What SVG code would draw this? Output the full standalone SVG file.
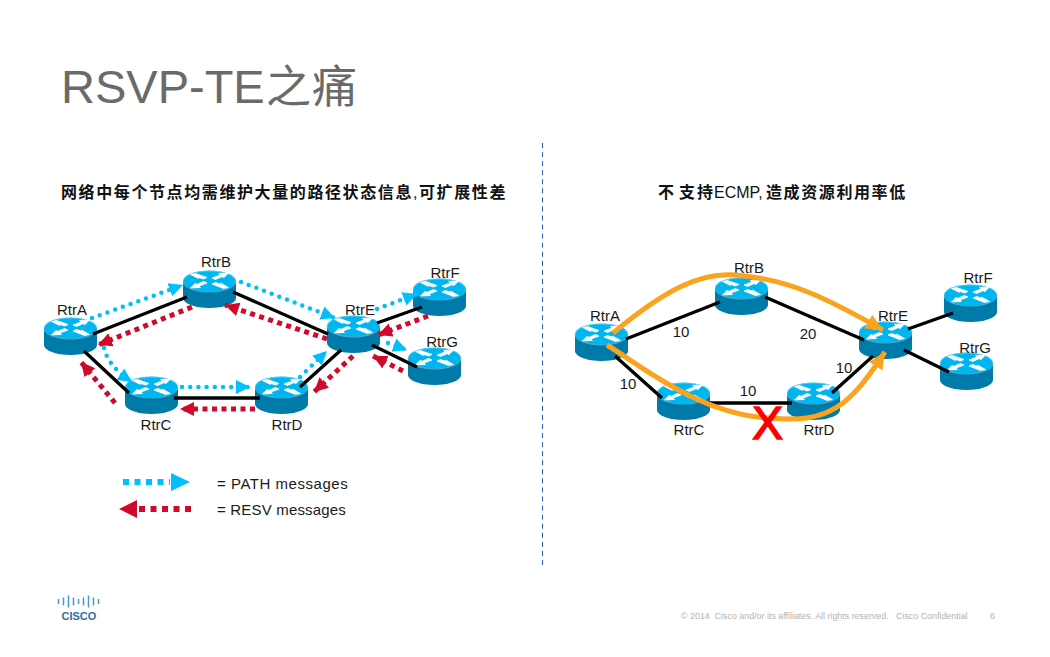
<svg xmlns="http://www.w3.org/2000/svg" width="1050" height="657" viewBox="0 0 1050 657">
<style>
text{font-family:"Liberation Sans","Noto Sans CJK SC",sans-serif}
.lb{font-size:15px;fill:#1a1a1a;text-anchor:middle}
.hd{font-size:16px;font-weight:bold;fill:#111;letter-spacing:1.6px}
.hn{font-weight:normal;letter-spacing:0}
.lg{font-size:15px;fill:#1a1a1a;letter-spacing:.53px}
.k{stroke:#000;stroke-width:3.300;fill:none}
.b{stroke:#00bfff;stroke-width:4.500;stroke-linecap:round;stroke-dasharray:0 8.2;fill:none;marker-end:url(#ab)}
.r{stroke:#cf0a2c;stroke-width:5;stroke-dasharray:5 4.500;fill:none;marker-end:url(#ar)}
.o{stroke:#fca31d;stroke-width:5;fill:none;marker-end:url(#ao)}
</style>
<defs>
<marker id="ab" markerUnits="userSpaceOnUse" markerWidth="16" markerHeight="16" refX="14" refY="8" orient="auto"><path d="M0 1L14 8L0 15Z" fill="#00bfff"/></marker>
<marker id="ar" markerUnits="userSpaceOnUse" markerWidth="16" markerHeight="16" refX="14" refY="8" orient="auto"><path d="M0 1L14 8L0 15Z" fill="#cf0a2c"/></marker>
<marker id="ao" markerUnits="userSpaceOnUse" markerWidth="18" markerHeight="18" refX="17" refY="9" orient="auto"><path d="M0 1L17 9L0 17Z" fill="#fca31d"/></marker>
<g id="router">
<path d="M-26.500 0V17A26.500 10 0 0 0 26.500 17V0Z" fill="#007aa8"/>
<ellipse cx="0" cy="0" rx="26.500" ry="10.500" fill="#00b6f0"/>
<ellipse cx="0" cy="0.500" rx="26.500" ry="10.500" fill="none" stroke="#9fe0f5" stroke-width="0.500"/>
<path d="M-19 -6.500L-14 -7.500L-2.500 -3.500L-6 -2L-12 -4L-11 -2.500ZM19 -8L9 -7.500L10.500 -6L2.500 -3L6 -1.500L13 -4.500L14 -3ZM-19 7L-9 6.500L-10.500 5L-2.500 2L-6 0.500L-13 3.500L-14 2ZM19 6.500L14 7.500L2.500 3L6 1.500L12 3.500L11 2Z" fill="#fff" stroke="#fff" stroke-width="0.800" stroke-linejoin="round"/>
</g>
</defs>
<rect width="1050" height="657" fill="#fff"/>
<text x="61" y="103" font-size="47" fill="#6a6a6a">RSVP-TE<tspan x="266" font-size="45" letter-spacing="1">之痛</tspan></text>
<text class="hd" x="61" y="198">网络中每个节点均需维护大量的路径状态信息<tspan class="hn" x="413">,</tspan><tspan x="419">可扩展性差</tspan></text>
<text class="hd" x="658" y="198">不<tspan x="679">支</tspan><tspan x="697">持</tspan><tspan class="hn" x="714">ECMP,</tspan><tspan x="766">造成资源利用率低</tspan></text>
<path d="M542.500 143V565" stroke="#2a5db0" stroke-width="1" stroke-dasharray="5 4.065" fill="none"/>
<g id="nodes-left">
<g id="L-RtrA"><use href="#router" x="70.500" y="328"/><text class="lb" x="72" y="315">RtrA</text></g>
<g id="L-RtrB"><use href="#router" x="209.500" y="281"/><text class="lb" x="216" y="267">RtrB</text></g>
<g id="L-RtrC"><use href="#router" x="151.500" y="387"/><text class="lb" x="156" y="430">RtrC</text></g>
<g id="L-RtrD"><use href="#router" x="281.500" y="387"/><text class="lb" x="287" y="430">RtrD</text></g>
<g id="L-RtrE"><use href="#router" x="353.500" y="326"/><text class="lb" x="360" y="315">RtrE</text></g>
<g id="L-RtrF"><use href="#router" x="439.500" y="289"/><text class="lb" x="445" y="278">RtrF</text></g>
<g id="L-RtrG"><use href="#router" x="434.500" y="358"/><text class="lb" x="442" y="347">RtrG</text></g>
</g>
<g id="nodes-right">
<g id="R-RtrA"><use href="#router" x="601.500" y="334"/><text class="lb" x="605" y="321">RtrA</text></g>
<g id="R-RtrB"><use href="#router" x="741.500" y="288"/><text class="lb" x="749" y="273">RtrB</text></g>
<g id="R-RtrC"><use href="#router" x="683.500" y="393"/><text class="lb" x="689" y="435">RtrC</text></g>
<g id="R-RtrD"><use href="#router" x="813.500" y="393"/><text class="lb" x="819" y="435">RtrD</text></g>
<g id="R-RtrE"><use href="#router" x="885.500" y="332"/><text class="lb" x="893" y="321">RtrE</text></g>
<g id="R-RtrF"><use href="#router" x="970.500" y="295"/><text class="lb" x="978" y="283">RtrF</text></g>
<g id="R-RtrG"><use href="#router" x="966.500" y="363"/><text class="lb" x="975" y="353">RtrG</text></g>
</g>
<g id="connectors">
<path class="k" d="M93 334L187 297M84 351L129 393M174 398H260M233 292L328 334M300 387L341 350M377 323L422 307M372 345L417 367"/>
<path class="b" d="M92 318L183 285"/>
<path class="b" d="M241 282L335 318"/>
<path class="b" d="M104 348Q108 366 132 382"/>
<path class="b" d="M182 387H250"/>
<path class="b" d="M300 377L327 351"/>
<path class="b" d="M377 309L417 294"/>
<path class="b" d="M388 343L407 350"/>
<path class="r" d="M192 307L98 345"/>
<path class="r" d="M327 339L225 305"/>
<path class="r" d="M255 409H180"/>
<path class="r" d="M115 403L81 362"/>
<path class="r" d="M353 356L314 392"/>
<path class="r" d="M428 316L378 335"/>
<path class="r" d="M403 371L373 356"/>
<path class="k" d="M626 339L720 302M615 356L662 398M708 403H792M765 297L864 340M832 393L873 356M908 329L953 313M904 350L949 372"/>
<path class="o" d="M613 333C665 290 700 272 735 275C790 279 830 300 883 330"/>
<path class="o" d="M607 345C640 365 700 415 770 418C830 424 850 405 885 352"/>
<path d="M123 482H170" stroke="#00bfff" stroke-width="6" stroke-dasharray="6 5.500" fill="none"/>
<path d="M171 473L190 482L171 491Z" fill="#00bfff"/>
<path d="M191 509H137" stroke="#cf0a2c" stroke-width="6" stroke-dasharray="6 5.500" fill="none"/>
<path d="M137 500L119 509L137 518Z" fill="#cf0a2c"/>
</g>
<text class="lb" x="681" y="337">10</text>
<text class="lb" x="808" y="339">20</text>
<text class="lb" x="844" y="373">10</text>
<text class="lb" x="628" y="389">10</text>
<text class="lb" x="748" y="396">10</text>
<text x="767.500" y="439" font-size="46" fill="#f00" stroke="#f00" stroke-width="1.500" text-anchor="middle">X</text>
<text class="lg" x="217" y="489">= PATH messages</text>
<text class="lg" x="217" y="515" style="letter-spacing:.18px">= RESV messages</text>
<g id="logo">
<path d="M58.500 599V604M63.500 597.500V605.500M68.500 595.500V607.500M73.500 597.500V605.500M78.500 599V604M83.500 597.500V605.500M88.500 595.500V607.500M93.500 597.500V605.500M98.500 599V604" stroke="#4a97cf" stroke-width="1.500" fill="none"/>
<text x="61.500" y="619.500" font-size="11" font-weight="bold" fill="#2f6ea5">CISCO</text>
</g>
<text x="681" y="619" font-size="8.900" fill="#b3b3b3" xml:space="preserve">© 2014  Cisco and/or its affiliates. All rights reserved.   Cisco Confidential</text>
<text x="990" y="619" font-size="8.900" fill="#b3b3b3">6</text>
</svg>
